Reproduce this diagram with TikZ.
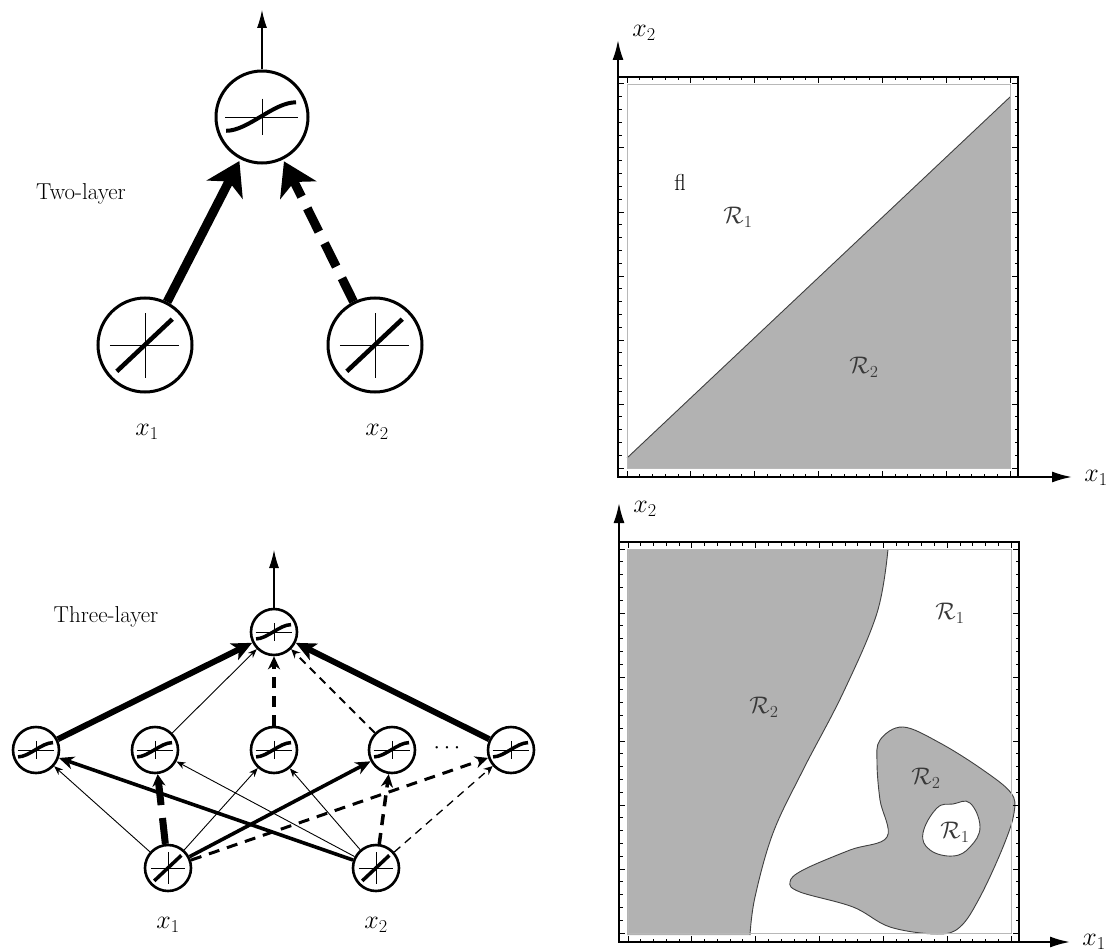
\RequirePackage{fix-cm}
\documentclass[tikz,border=0pt]{standalone}
\usetikzlibrary{arrows.meta}
\definecolor{regiongray}{gray}{0.70}
\definecolor{framegray}{gray}{0.72}
\definecolor{rlabel}{gray}{0.22}
\definecolor{edgegray}{gray}{0.25}
\begin{document}
\begin{tikzpicture}[x=1pt,y=-1pt,
  unitbig/.style={circle, draw, line width=3pt, minimum size=92pt, inner sep=0pt},
  unitsmall/.style={circle, draw, line width=2.6pt, minimum size=46pt, inner sep=0pt},
  sigface/.style 2 args={path picture={
    \begin{scope}[shift={(path picture bounding box.center)}, x=#1, y=-#1]
      \draw[line width=0.9pt] (-0.8,0) -- (0.78,0) (0,-0.4) -- (0,0.4);
      \draw[line width=#2] (-0.78,0.3) .. controls (-0.3,0.3) and (0.25,-0.32) .. (0.74,-0.32);
    \end{scope}}},
  linface/.style 2 args={path picture={
    \begin{scope}[shift={(path picture bounding box.center)}, x=#1, y=-#1]
      \draw[line width=0.9pt] (-0.75,0) -- (0.72,0) (0,-0.68) -- (0,0.7);
      \draw[line width=#2] (-0.6,0.56) -- (0.58,-0.55);
    \end{scope}}},
  mathlbl/.style={font=\fontsize{26}{30}\selectfont, inner sep=0pt},
  textlbl/.style={font=\fontsize{23}{27}\selectfont, inner sep=0pt},
  rlbl/.style={font=\fontsize{24}{28}\selectfont, text=rlabel, inner sep=0pt},
  outarrow/.style={line width=1.1pt, -{Latex[length=18pt,width=10pt]}},
  axisarrow/.style={line width=2pt, -{Latex[length=20pt,width=11pt]}},
  heavyarrow/.style={line width=9pt, -{Stealth[length=32pt,width=40pt,inset=9pt]}, shorten >=2pt},
  heavydash/.style={heavyarrow, dash pattern=on 26pt off 13pt},
  cthin/.style={line width=0.9pt, -{Stealth[length=9pt,width=7pt]}},
  cthick/.style={line width=3.6pt, -{Stealth[length=15pt,width=13pt]}},
  cheavy/.style={line width=6pt, -{Stealth[length=20pt,width=18pt,inset=5pt]}},
  cdthin/.style={line width=1.3pt, dash pattern=on 8pt off 6pt, -{Stealth[length=9pt,width=8pt]}},
  cdmed/.style={line width=3pt, dash pattern=on 11pt off 8pt, -{Stealth[length=13pt,width=12pt]}},
  cdheavy/.style={line width=7pt, dash pattern=on 26pt off 13pt, -{Stealth[length=12pt,width=13pt]}},
  boundary/.style={line width=0.9pt, draw=edgegray}
]
\useasboundingbox (0,0) rectangle (1113,952);

% ---------------- Two-layer network ----------------
\node[unitbig, sigface={46pt}{4pt}] (o2) at (262,117) {};
\node[unitbig, minimum size=94pt, linface={47pt}{4.5pt}] (a1) at (145,345) {};
\node[unitbig, minimum size=94pt, linface={47pt}{4.5pt}] (a2) at (375,345) {};
\coordinate (o2top) at (262,10);
\draw[outarrow] (o2) -- (o2top);
\draw[heavyarrow] (a1) -- (o2);
\draw[heavydash] (a2) -- (o2);
\node[mathlbl] (lx1a) at (147,432) {$x_1$};
\node[mathlbl] (lx2a) at (377,432) {$x_2$};
\node[textlbl] (twolayer) at (81,194) {Two-layer};

% ---------------- Three-layer network ----------------
\node[unitsmall, sigface={23pt}{3.5pt}] (o3) at (274,632) {};
\node[unitsmall, sigface={23pt}{3.5pt}] (h1) at (36,750) {};
\node[unitsmall, sigface={23pt}{3.5pt}] (h2) at (155,750) {};
\node[unitsmall, sigface={23pt}{3.5pt}] (h3) at (274,750) {};
\node[unitsmall, sigface={23pt}{3.5pt}] (h4) at (392,750) {};
\node[unitsmall, sigface={23pt}{3.5pt}] (h5) at (511,750) {};
\node[unitsmall, linface={23pt}{3.5pt}] (i1) at (168,868) {};
\node[unitsmall, linface={23pt}{3.5pt}] (i2) at (376,868) {};
\coordinate (o3top) at (274,550);
\draw[outarrow] (o3) -- (o3top);

\draw[cheavy] (h1) -- (o3);
\draw[cthin] (h2) -- (o3);
\draw[cdmed, line width=4pt] (h3) -- (o3);
\draw[cdthin, line width=1.8pt] (h4) -- (o3);
\draw[cheavy] (h5) -- (o3);

\draw[cthin] (i1) -- (h1);
\draw[cdheavy] (i1) -- (h2);
\draw[cthin] (i1) -- (h3);
\draw[cthick] (i1) -- (h4);
\draw[cdmed] (i1) -- (h5);
\draw[cthick] (i2) -- (h1);
\draw[cthin] (i2) -- (h2);
\draw[cthin] (i2) -- (h3);
\draw[cdmed, line width=3.5pt] (i2) -- (h4);
\draw[cdthin] (i2) -- (h5);

\node[textlbl] (dots) at (447,748) {$\cdots$};
\node[mathlbl] (lx1b) at (168,925) {$x_1$};
\node[mathlbl] (lx2b) at (376,925) {$x_2$};
\node[textlbl] (threelayer) at (106,617) {Three-layer};

% ---------------- Decision regions: top plot ----------------
\fill[regiongray] (627,458) -- (1010,97) -- (1010,468) -- (627,468) -- cycle;
\draw[boundary] (627,458) -- (1010,97);

% ---------------- Decision regions: bottom plot ----------------
\fill[regiongray] (627,549) -- plot[smooth, tension=0.6] coordinates {(888,549) (877,613) (843,693) (803,770) (773,833) (755,897) (750,935)} -- (627,935) -- cycle;
\draw[boundary] plot[smooth, tension=0.6] coordinates {(888,549) (877,613) (843,693) (803,770) (773,833) (755,897) (750,935)};
\filldraw[fill=regiongray, boundary] plot[smooth cycle, tension=0.6] coordinates {(903,727) (880,740) (877,763) (880,800) (887,837) (850,850) (803,870) (790,882) (800,892) (853,907) (890,927) (937,934) (960,927) (980,897) (1003,847) (1014,813) (1011,793) (983,770) (940,743)};
\filldraw[fill=white, boundary] plot[smooth cycle, tension=0.7] coordinates {(937,808) (953,804) (970,803) (980,827) (970,847) (953,856) (930,850) (923,833)};

% ---------------- Frames, ticks, axes ----------------
\foreach \ox/\oy/\yt/\xt/\lxa/\lya/\lxb/\lyb/\nm in {618/77/40/1072/644/33/1096/478/top, 619/542/503/1070/645/509/1094/942/bot}{
  \begin{scope}[shift={(\ox,\oy)}]
    \draw[framegray, line width=0.8pt] (9,7) rectangle (392,391);
    \foreach \k in {0,...,30}{
      \pgfmathsetmacro\tl{mod(\k,5)==0 ? 6 : 3.5}
      \draw[line width=1pt] (9+\k*12.77,0) -- ++(0,\tl) (9+\k*12.77,400) -- ++(0,-\tl)
        (0,7+\k*12.8) -- ++(\tl,0) (400,7+\k*12.8) -- ++(-\tl,0);
    }
    \draw[line width=2pt] (0,0) rectangle (400,400);
  \end{scope}
  \coordinate (orig\nm) at (\ox,\oy+400);
  \coordinate (ytip\nm) at (\ox,\yt);
  \coordinate (xtip\nm) at (\xt,\oy+400);
  \draw[axisarrow] (orig\nm) -- (ytip\nm);
  \draw[axisarrow] (orig\nm) -- (xtip\nm);
  \node[mathlbl] (x2\nm) at (\lxa,\lya) {$x_2$};
  \node[mathlbl] (x1\nm) at (\lxb,\lyb) {$x_1$};
}

% ---------------- Region labels ----------------
\node[textlbl] (fl) at (680,182) {fl};
\node[rlbl] (r1top) at (738,217) {$\mathcal{R}_1$};
\node[rlbl] (r2top) at (864,367) {$\mathcal{R}_2$};
\node[rlbl] (r1bot) at (950,613) {$\mathcal{R}_1$};
\node[rlbl] (r2left) at (764,707) {$\mathcal{R}_2$};
\node[rlbl] (r2blob) at (926,778) {$\mathcal{R}_2$};
\node[rlbl] (r1hole) at (955,832) {$\mathcal{R}_1$};
\end{tikzpicture}
\end{document}
